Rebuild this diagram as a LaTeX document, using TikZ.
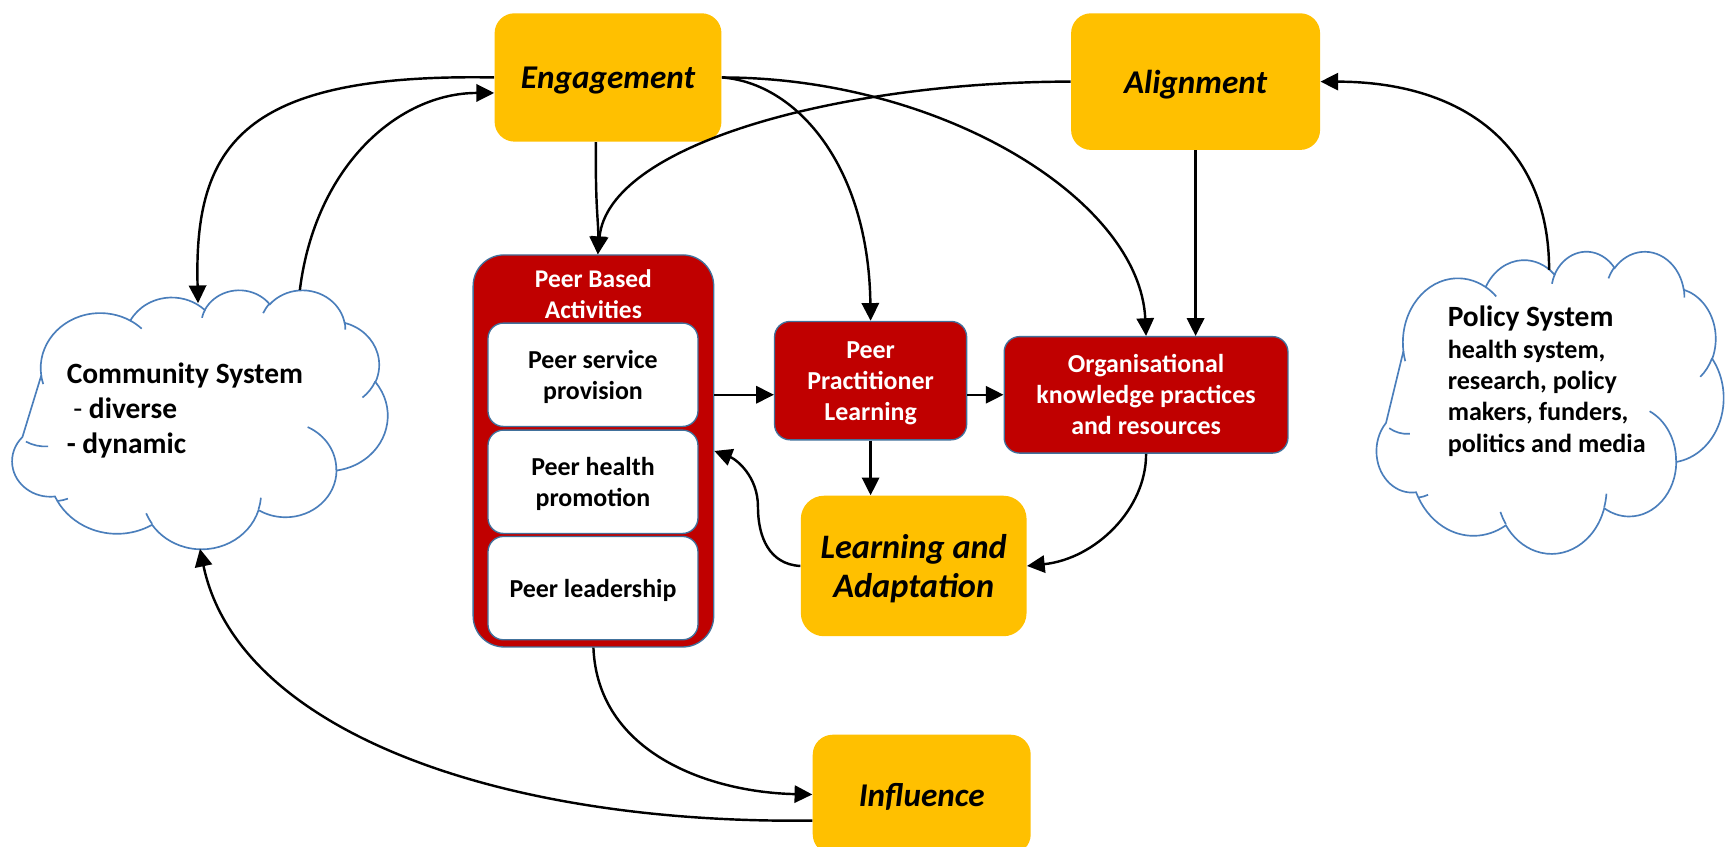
\documentclass[tikz,border=0pt]{standalone}
\usepackage{fontspec}
\setmainfont{Carlito}
\usetikzlibrary{arrows.meta}
\definecolor{ygold}{HTML}{FFC000}
\definecolor{dred}{HTML}{C00000}
\definecolor{edgeblue}{HTML}{41719C}
\definecolor{cloudblue}{HTML}{4A7EBB}
\tikzset{
  ybox/.style={fill=ygold, draw=none, rounded corners=9pt, inner sep=0pt, align=center, text depth=0pt,
    font=\bfseries\itshape\fontsize{15}{18}\selectfont},
  rbox/.style={fill=dred, draw=edgeblue, line width=0.6pt, rounded corners=7pt, inner sep=0pt, text depth=0pt,
    align=center, text=white, font=\bfseries\fontsize{11.7}{14}\selectfont},
  wbox/.style={fill=white, draw=edgeblue, line width=0.6pt, rounded corners=7pt, inner sep=0pt, text depth=0pt,
    align=center, font=\bfseries\fontsize{11.7}{14}\selectfont},
  conn/.style={line width=1.1pt, -{Triangle[length=8pt,width=7.8pt]}},
  cloudline/.style={draw=cloudblue, line width=0.75pt},
  cloudarea/.style={draw=none, inner sep=0pt},
  cloudtext/.style={inner sep=0pt, align=left, anchor=west, font=\bfseries\fontsize{13.3}{15.75}\selectfont},
}
% Office-style cloud drawn in the box of node #1, path units 0..100
\newcommand\officecloud[3]{%
  \begin{scope}[shift={(#1.north west)}, x=#2, y=#3]
    \filldraw[fill=white, cloudline] (9.028,33.264)
      \foreach \a/\b/\s/\w [evaluate=\s as \ts using {atan2(\a*sin(\s),\b*cos(\s))},
                            evaluate=\w as \te using {\ts+mod(atan2(\a*sin(\s+\w),\b*cos(\s+\w))-\ts+720,360)}] in
      {15.632/21.273/-190.4875/123.7805,
       12.345/16.822/-144.1024/89.9452,
       10.104/13.762/-145.8079/99.7230,
       11.243/15.266/-130.9861/117.2417,
       12.345/16.836/-78.7089/109.0269,
       15.683/21.343/-46.2673/130.2690,
       13.391/18.211/0.6250/114.0333,
       15.630/21.331/22.4516/115.1726,
       17.870/24.405/66.2426/82.2697,
       10.093/13.699/-274.9421/146.7356}
      { arc[x radius=\a, y radius=\b, start angle=\ts, end angle=\te] } -- cycle;
    \draw[cloudline]
      \foreach \px/\py/\a/\b/\s/\w [evaluate=\s as \ts using {atan2(\a*sin(\s),\b*cos(\s))},
                            evaluate=\w as \te using {\ts+mod(atan2(\a*sin(\s+\w),\b*cos(\s+\w))-\ts+720,360)}] in
      {10.863/60.595/10.058/13.762/86.742/26.4295,
       16.037/80.785/10.093/13.699/73.6105/11.4475,
       38.144/90.486/15.630/21.331/137.6242/14.0811,
       66.729/80.442/15.630/21.331/6.4533/15.9984,
       79.002/53.134/13.391/18.211/-70.2924/70.9174,
       96.755/35.542/12.345/16.836/30.3180/27.7515,
       88.713/12.560/11.243/15.266/-13.7443/14.8589,
       67.310/9.148/11.243/15.266/-149.1815/18.1954,
       51.252/10.926/10.104/13.762/-163.4943/17.6864,
       32.407/12.019/15.632/21.273/-66.7070/12.3194,
       9.553/36.549/15.632/21.273/157.6544/11.8582}
      { (\px,\py) arc[x radius=\a, y radius=\b, start angle=\ts, end angle=\te] };
  \end{scope}}
\begin{document}
\begin{tikzpicture}[x=0.5pt, y=-0.5pt]
\useasboundingbox (0,0) rectangle (1568,764.6);
\fill[white] (0,0) rectangle (1568,764.6);

% clouds
\node[cloudarea, minimum width=172.05pt, minimum height=117pt] (comm) at (178.65,379) {};
\officecloud{comm}{1.7205pt}{-1.17pt}
\node[cloudtext] (commtxt) at (60,371) {Community System\\
  \hspace{0.22em}{\mdseries -} diverse\\- dynamic};

\node[cloudarea, minimum width=159pt, minimum height=136.5pt] (pol) at (1399,363.5) {};
\officecloud{pol}{1.59pt}{-1.365pt}
\node[cloudtext, font=\bfseries\fontsize{11.8}{14.2}\selectfont] (poltxt) at (1308,344.5)
  {{\fontsize{13.3}{14.2}\selectfont Policy System}\\health system,\\research, policy\\makers, funders,\\politics and media};

\coordinate (commT1) at (179,274);
\coordinate (commT2) at (271,262);
\coordinate (commB) at (180.7,496);
\coordinate (polT) at (1400,244);

% yellow boxes
\node[ybox, minimum width=102.5pt, minimum height=58pt] (eng) at (549.5,70) {Engagement};
\node[ybox, minimum width=112.5pt, minimum height=61.75pt] (ali) at (1080.5,73.75) {Alignment};
\node[ybox, minimum width=102pt, minimum height=63.5pt, rounded corners=10.5pt,
  font=\bfseries\itshape\fontsize{15.5}{17.75}\selectfont] (la) at (825.75,511.5) {Learning and\\Adaptation};
\node[ybox, minimum width=98.5pt, minimum height=54pt] (inf) at (833,718) {Influence};

% peer based activities
\node[rbox, rounded corners=14pt, minimum width=108.7pt, minimum height=177.15pt] (cont) at (536.3,407.55) {};
\node[inner sep=0pt, align=center, text=white, font=\bfseries\fontsize{11.5}{14}\selectfont] (pbt)
  at (536.3,266) {Peer Based\\Activities};
\node[wbox, minimum width=94.9pt, minimum height=46.7pt] (psp) at (535.9,338.7) {Peer service\\provision};
\node[wbox, minimum width=94.9pt, minimum height=46.7pt] (php) at (535.9,435.4) {Peer health\\promotion};
\node[wbox, minimum width=94.9pt, minimum height=46.7pt] (pld) at (535.9,531.5) {Peer leadership};

% red boxes
\node[rbox, minimum width=86.8pt, minimum height=53.5pt] (ppl) at (786.8,344) {Peer\\Practitioner\\Learning};
\node[rbox, minimum width=128.25pt, minimum height=52.65pt] (org) at (1035.75,356.85)
  {Organisational\\knowledge practices\\and resources};

% connectors
\draw[conn] (eng.west) .. controls (220,66) and (175,130) .. (commT1);
\draw[conn] (commT2) .. controls (285,150) and (360,84) .. ([yshift=-7pt]eng.west);
\draw[conn] ([xshift=-5.5pt]eng.south) .. controls (538,190) and (541,200) .. ([xshift=2pt]cont.north);
\draw[conn] (ali.west) .. controls (760,74) and (550,130) .. ([xshift=2pt]cont.north);
\draw[conn] (eng.east) .. controls (720,75) and (785,150) .. (ppl.north);
\draw[conn] (eng.east) .. controls (850,70) and (1030,180) .. (org.north);
\draw[conn] (ali.south) -- (ali.south |- org.north);
\draw[conn] (polT) .. controls (1400,130) and (1320,74) .. (ali.east);
\coordinate (hy) at ([yshift=25.4pt]cont.east);
\draw[conn] (hy) -- (hy -| ppl.west);
\draw[conn] (ppl.east |- hy) -- (org.west |- hy);
\draw[conn] (ppl.south) -- (ppl.south |- la.north);
\draw[conn] (org.south) .. controls (1036,460) and (990,505) .. (la.east);
\draw[conn] (la.west) .. controls (695,510) and (685,485) .. (685,458)
  .. controls (685,430) and (665,415) .. (cont.east);
\draw[conn] (cont.south) .. controls (540,680) and (640,716) .. (inf.west);
\draw[conn] ([yshift=-11.8pt]inf.west) .. controls (450,745) and (215,660) .. (commB);
\end{tikzpicture}
\end{document}
